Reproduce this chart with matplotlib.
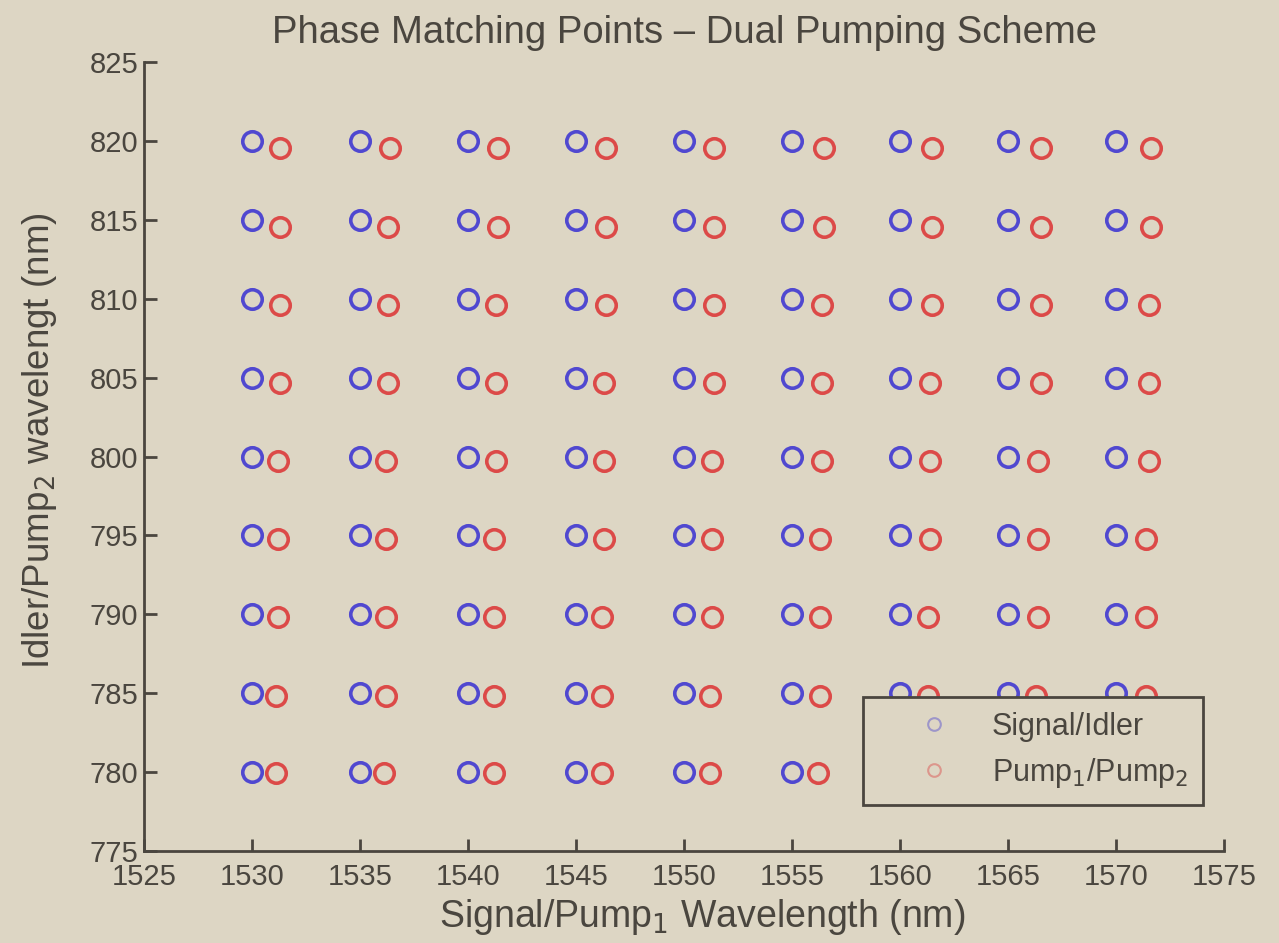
import numpy as np
import matplotlib.pyplot as plt

plt.rcParams['font.family'] = ['Liberation Sans', 'DejaVu Sans']

# signal / idler grid
signal_nm = [1530, 1535, 1540, 1545, 1550, 1555, 1560, 1565, 1570]
idler_nm = [780, 785, 790, 795, 800, 805, 810, 815, 820]

# pump1 wavelength for each (idler row, signal column)
pump1_nm = [
    [1531.1, 1536.1, 1541.2, 1546.2, 1551.2, 1556.2, 1561.3, 1566.3, 1571.3],
    [1531.1, 1536.2, 1541.2, 1546.2, 1551.2, 1556.3, 1561.3, 1566.3, 1571.4],
    [1531.2, 1536.2, 1541.2, 1546.2, 1551.3, 1556.3, 1561.3, 1566.4, 1571.4],
    [1531.2, 1536.2, 1541.2, 1546.3, 1551.3, 1556.3, 1561.4, 1566.4, 1571.4],
    [1531.2, 1536.2, 1541.3, 1546.3, 1551.3, 1556.4, 1561.4, 1566.4, 1571.5],
    [1531.3, 1536.3, 1541.3, 1546.3, 1551.4, 1556.4, 1561.4, 1566.5, 1571.5],
    [1531.3, 1536.3, 1541.3, 1546.4, 1551.4, 1556.4, 1561.5, 1566.5, 1571.5],
    [1531.3, 1536.3, 1541.4, 1546.4, 1551.4, 1556.5, 1561.5, 1566.5, 1571.6],
    [1531.3, 1536.4, 1541.4, 1546.4, 1551.4, 1556.5, 1561.5, 1566.5, 1571.6],
]
# pump2 wavelength for each idler row
pump2_nm = [779.95, 784.85, 789.8, 794.75, 799.7, 804.65, 809.6, 814.55, 819.55]

bg = '#ddd6c4'
ink = '#4a463f'

sig_x, idl_y = np.meshgrid(signal_nm, idler_nm)
p1_x = np.array(pump1_nm)
p2_y = np.repeat(np.array(pump2_nm)[:, None], len(signal_nm), axis=1)

fig = plt.figure(figsize=(12.79, 9.43), dpi=100, facecolor=bg)
ax = fig.add_axes([0.1126, 0.0976, 0.8445, 0.8366], facecolor=bg)

ax.plot(sig_x.ravel(), idl_y.ravel(), 'o', ls='none', ms=14, mfc='none',
        mec='#5048d0', mew=2.6, label='Signal/Idler')
ax.plot(p1_x.ravel(), p2_y.ravel(), 'o', ls='none', ms=14, mfc='none',
        mec='#dc4a48', mew=2.6, label='Pump$_1$/Pump$_2$')

ax.set_xlim(1525, 1575)
ax.set_ylim(775, 825)
ax.set_xticks(np.arange(1525, 1576, 5))
ax.set_yticks(np.arange(775, 826, 5))

for side in ['top', 'right']:
    ax.spines[side].set_visible(False)
for side in ['left', 'bottom']:
    ax.spines[side].set_color(ink)
    ax.spines[side].set_linewidth(2)
ax.tick_params(direction='in', length=9, width=2, color=ink,
               labelcolor=ink, labelsize=21, pad=4)
ax.tick_params(axis='x', pad=9)

ax.set_title('Phase Matching Points \u2013 Dual Pumping Scheme',
             fontsize=27.5, color=ink, pad=14)
ax.set_xlabel('Signal/Pump$_1$ Wavelength (nm)', fontsize=27, color=ink,
              labelpad=4)
ax.xaxis.label.set_x(0.517)
ax.set_ylabel('Idler/Pump$_2$ wavelengt (nm)', fontsize=26.5, color=ink,
              labelpad=22)
ax.yaxis.label.set_y(0.52)

leg = ax.legend(loc='center', bbox_to_anchor=(0.666, 0.056, 0.314, 0.142),
                mode='expand', borderaxespad=0, fontsize=22, markerscale=0.65,
                fancybox=False, framealpha=1, facecolor=bg, edgecolor=ink,
                handletextpad=0.1, borderpad=0.5, labelspacing=0.45,
                handlelength=3.6)
leg.get_frame().set_linewidth(2)
for t in leg.get_texts():
    t.set_color(ink)
for h in leg.legend_handles:
    h.set_alpha(0.45)
    h.set_markeredgewidth(1.5)

fig.savefig('out.png', dpi=100, facecolor=bg)
